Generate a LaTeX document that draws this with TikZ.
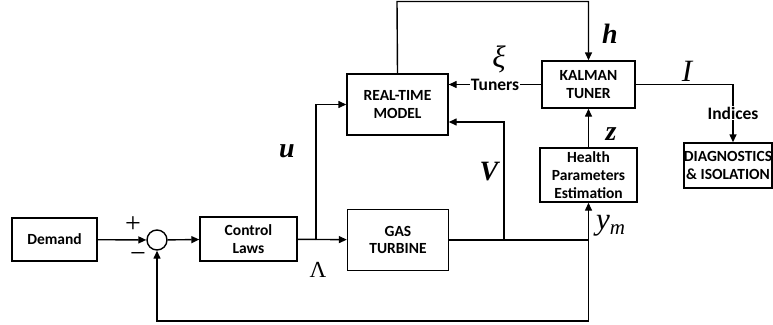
\documentclass[tikz,border=0pt]{standalone}
\usepackage{fontspec}
\setmainfont{Carlito}
\newfontfamily\mf{Liberation Serif}
\usetikzlibrary{arrows.meta}
\tikzset{
  blk/.style={draw, line width=1.4pt, align=center, inner sep=0pt,
    font=\fontsize{15.5}{17.5}\selectfont\bfseries},
  ln/.style={line width=1.4pt},
  arr/.style={ln, -{Triangle[length=8pt,width=7pt]}},
  lab/.style={inner sep=0pt, font=\fontsize{28}{28}\selectfont\mf\bfseries\itshape},
  ilab/.style={inner sep=0pt, font=\fontsize{31}{31}\selectfont\mf\itshape},
  rlab/.style={inner sep=0pt, font=\fontsize{23}{23}\selectfont\mf},
  sgn/.style={inner sep=0pt, font=\fontsize{28}{28}\selectfont\mf},
  txt/.style={inner sep=1pt, fill=white, font=\fontsize{17.5}{18}\selectfont\bfseries}
}
\begin{document}
\begin{tikzpicture}[x=1pt,y=-1pt]
\useasboundingbox (0,0) rectangle (773,324);
% blocks
\node[blk, minimum width=85pt, minimum height=43pt] (dem) at (54.5,239.5) {Demand};
\node[draw, ln, circle, minimum size=20pt, inner sep=0pt] (sum) at (157,240) {};
\node[blk, minimum width=97pt, minimum height=44pt] (ctrl) at (248.5,239) {Control\\Laws};
\node[blk, minimum width=101pt, minimum height=61pt] (gt) at (398,240) {GAS\\TURBINE};
\node[blk, minimum width=101pt, minimum height=61pt] (rtm) at (397.5,104.5) {REAL-TIME\\MODEL};
\node[blk, minimum width=93pt, minimum height=47pt] (kal) at (588.5,84.5) {KALMAN\\TUNER};
\node[blk, minimum width=97pt, minimum height=54pt, font=\fontsize{15.5}{18}\selectfont\bfseries] (hpe) at (588.5,175) {Health\\Parameters\\Estimation};
\node[blk, minimum width=88pt, minimum height=45pt] (diag) at (728,165.5) {DIAGNOSTICS\\\&\ ISOLATION};
% coordinates
\coordinate (br) at (316,240);
\coordinate (vb) at (504,240);
\coordinate (ymb) at (588.5,240);
\coordinate (tp) at (397,1.5);
\coordinate (vin) at ([yshift=-17.5pt]rtm.east);
\coordinate (icor) at (733,84.5);
% signs
\node[sgn] (plus) at (133,225) {+};
\node[sgn] (minus) at (138,257) {−};
% connections
\draw[arr] (dem) -- (sum);
\draw[arr] (sum) -- (ctrl);
\draw[arr] (ctrl) -- (gt);
\draw[arr] (br) |- (rtm.west);
\draw[arr] (rtm.north) -- (tp) -| (kal.north);
\draw[ln] (kal.west) -- node[txt] (tun) {Tuners} (rtm.east |- kal.west);
\draw[arr] (tun.west) -- (rtm.east |- kal.west);
\draw[ln] (gt.east) -- (ymb);
\draw[arr] (vb) |- (vin);
\draw[arr] (ymb) -- (hpe.south);
\draw[arr] (ymb) -- ++(0,81) -| (sum.south);
\draw[arr] (hpe.north) -- (kal.south);
\node[txt, fill=none] (ind) at (733,113) {Indices};
\draw[ln] (kal.east) -- (icor) -- (ind.north);
\draw[arr] (ind.south) -- (diag.north -| ind.south);
% labels
\node[lab] (lu) at (287,151) {u};
\node[lab] (lv) at (489,172) {V};
\node[lab] (lh) at (610,34) {h};
\node[lab] (lz) at (611,134) {z};
\node[ilab] (lxi) at (499,59) {ξ};
\node[ilab] (li) at (687,71) {I};
\node[rlab] (llam) at (318,270) {Λ};
\node[ilab, anchor=west] (lym) at (596,226) {y\raisebox{-5pt}{\fontsize{21}{21}\selectfont m}};
\end{tikzpicture}
\end{document}
